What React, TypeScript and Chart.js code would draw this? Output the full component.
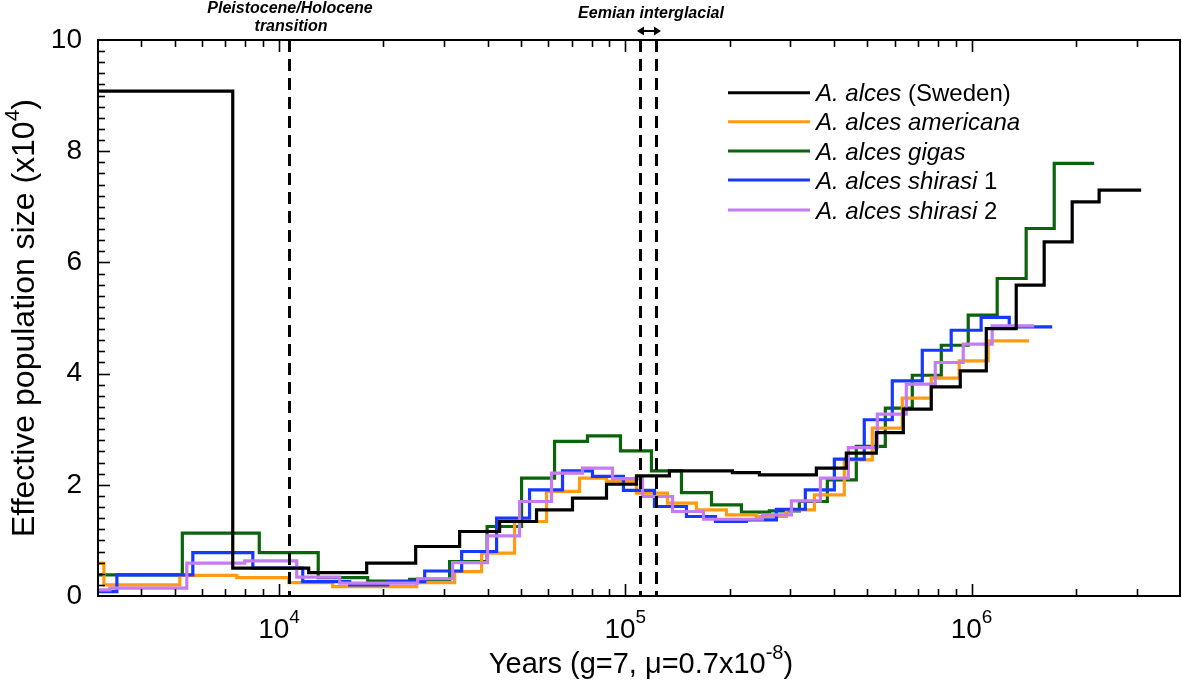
import { useEffect, useRef } from "react";
import { Chart, registerables } from "chart.js";
Chart.register(...registerables);

const FONT = '"Liberation Sans", Arial, Helvetica, sans-serif';

// Years before present (start of each step) and Ne (x10^4)
const swedenYears = [3000, 7350, 12180, 17910, 24810, 33230, 43350, 55420, 70390, 88250, 107700, 134100, 203900, 244000, 356300, 434900, 530800, 635300, 765000, 927700, 1103000, 1346000, 1621000, 1953000, 2336000, 3089000];
const swedenNe = [9.08, 0.5, 0.42, 0.59, 0.89, 1.16, 1.34, 1.55, 1.76, 2.01, 2.16, 2.25, 2.22, 2.18, 2.3, 2.57, 2.94, 3.36, 3.76, 4.05, 4.81, 5.59, 6.37, 7.09, 7.3, 7.3];

const americanaYears = [3000, 3120, 5169, 7549, 10666, 14289, 24972, 32140, 38460, 47880, 59230, 73750, 88250, 107700, 132400, 160500, 196000, 239000, 291900, 351600, 429100, 516900, 631000, 765000, 921200, 1117000, 1467000];
const americanaNe = [0.59, 0.2, 0.37, 0.33, 0.24, 0.17, 0.24, 0.44, 0.77, 1.34, 1.88, 2.12, 2.06, 1.85, 1.67, 1.55, 1.46, 1.43, 1.55, 1.82, 2.45, 3.02, 3.56, 3.92, 4.23, 4.59, 4.59];

const gigasYears = [3000, 5256, 8768, 12977, 18030, 23838, 31090, 39890, 50170, 62470, 77770, 96850, 119000, 145300, 177400, 216500, 260800, 318200, 383300, 464700, 563600, 674400, 817700, 978200, 1186000, 1438000, 1733000, 2260000];
const gigasNe = [0.38, 1.13, 0.78, 0.33, 0.27, 0.3, 0.62, 1.25, 2.12, 2.78, 2.88, 2.61, 2.25, 1.86, 1.64, 1.51, 1.53, 1.7, 2.09, 2.69, 3.38, 3.97, 4.51, 5.05, 5.71, 6.61, 7.78, 7.78];

const shirasi1Years = [3000, 3401, 5636, 8399, 11706, 15996, 20594, 26340, 33680, 42490, 52910, 65870, 80390, 98790, 121400, 150200, 182200, 223800, 273200, 331100, 401600, 490000, 590400, 720700, 873500, 1066000, 1285000, 1710000];
const shirasi1Ne = [0.08, 0.38, 0.78, 0.5, 0.26, 0.2, 0.26, 0.45, 0.8, 1.4, 1.91, 2.25, 2.15, 1.9, 1.61, 1.43, 1.34, 1.37, 1.56, 1.91, 2.46, 3.17, 3.87, 4.42, 4.78, 5.01, 4.84, 4.84];

const shirasi2Years = [3000, 3247, 5415, 7962, 11248, 14969, 25140, 31720, 40020, 49510, 61230, 75240, 91850, 112100, 136900, 168200, 248900, 301800, 365900, 440700, 534400, 648000, 785600, 946300, 1147000, 1517000];
const shirasi2Ne = [0.11, 0.14, 0.59, 0.63, 0.34, 0.23, 0.31, 0.6, 1.08, 1.7, 2.21, 2.3, 2.11, 1.79, 1.52, 1.38, 1.46, 1.71, 2.12, 2.67, 3.27, 3.81, 4.2, 4.53, 4.86, 4.86];

const legendItalic = ["A. alces", "A. alces americana", "A. alces gigas", "A. alces shirasi", "A. alces shirasi"];
const legendPlain = [" (Sweden)", "", "", " 1", " 2"];
const seriesColors = ["#000000", "#ff9a12", "#0a640a", "#1638ff", "#c57cf0"];

const holoceneYear = 10700;
const eemianYears = [110600, 122800];
const xMajorTicks = [1e4, 1e5, 1e6];
const xMajorExp = ["4", "5", "6"];
const xMin = 3000;
const xMax = 4e6;

function drawSup(ctx: CanvasRenderingContext2D, base: string, sup: string, tail: string, x: number, y: number, size: number, supSize: number, align: "center" | "left", rise: number) {
  ctx.textBaseline = "alphabetic";
  ctx.textAlign = "left";
  const bf = `${size}px ${FONT}`;
  const sf = `${supSize}px ${FONT}`;
  ctx.font = bf;
  const w1 = ctx.measureText(base).width;
  const w3 = ctx.measureText(tail).width;
  ctx.font = sf;
  const w2 = ctx.measureText(sup).width;
  const total = w1 + w2 + w3;
  let sx = align === "center" ? x - total / 2 : x;
  ctx.font = bf;
  ctx.fillText(base, sx, y);
  sx += w1;
  ctx.font = sf;
  ctx.fillText(sup, sx, y - rise);
  sx += w2;
  ctx.font = bf;
  ctx.fillText(tail, sx, y);
}

const decorPlugin = {
  id: "decor",
  afterDatasetsDraw(chart: any) {
    const ctx: CanvasRenderingContext2D = chart.ctx;
    const { left, right, top, bottom } = chart.chartArea;
    const xs = chart.scales.x;
    const ys = chart.scales.y;
    ctx.save();
    ctx.strokeStyle = "#000";
    ctx.fillStyle = "#000";

    // dashed event lines
    ctx.lineWidth = 3;
    ctx.setLineDash([12, 7]);
    [holoceneYear, ...eemianYears].forEach((v) => {
      const px = Math.round(xs.getPixelForValue(v)) + 0.5;
      ctx.beginPath();
      ctx.moveTo(px, top);
      ctx.lineTo(px, bottom);
      ctx.stroke();
    });
    ctx.setLineDash([]);

    // frame
    ctx.lineWidth = 2;
    ctx.strokeRect(left, top, right - left, bottom - top);

    // x ticks (top & bottom, inward)
    ctx.lineWidth = 1.6;
    for (let e = 3; e <= 6; e++) {
      for (let m = 1; m <= 9; m++) {
        const v = m * Math.pow(10, e);
        if (v <= xMin || v >= xMax) continue;
        const px = Math.round(xs.getPixelForValue(v)) + 0.5;
        const len = m === 1 ? 12 : 7;
        ctx.beginPath();
        ctx.moveTo(px, bottom);
        ctx.lineTo(px, bottom - len);
        ctx.moveTo(px, top);
        ctx.lineTo(px, top + len);
        ctx.stroke();
      }
    }
    // y ticks (left, inward)
    for (let i = 1; i < 50; i++) {
      const v = i * 0.2;
      const py = Math.round(ys.getPixelForValue(v)) + 0.5;
      const len = i % 10 === 0 ? 12 : 7;
      ctx.beginPath();
      ctx.moveTo(left, py);
      ctx.lineTo(left + len, py);
      ctx.stroke();
    }

    // x tick labels
    xMajorTicks.forEach((v, i) => {
      const px = xs.getPixelForValue(v);
      drawSup(ctx, "10", xMajorExp[i], "", px, 638, 28, 19, "center", 15);
    });

    // x title
    drawSup(ctx, "Years (g=7, \u03bc=0.7x10", "-8", ")", 641, 673, 29, 20, "center", 14);

    // y title
    ctx.save();
    ctx.translate(34, 318);
    ctx.rotate(-Math.PI / 2);
    drawSup(ctx, "Effective population size (x10", "4", ")", 0, 0, 32, 21, "center", 15);
    ctx.restore();

    // annotations
    ctx.font = `italic bold 16px ${FONT}`;
    ctx.textAlign = "center";
    ctx.textBaseline = "alphabetic";
    ctx.fillText("Pleistocene/Holocene", 290, 13);
    ctx.fillText("transition", 291, 31);
    ctx.fillText("Eemian interglacial", 651, 18);

    // double arrow
    const ay = 31;
    const ax1 = 637;
    const ax2 = 661;
    ctx.lineWidth = 2;
    ctx.beginPath();
    ctx.moveTo(ax1 + 5, ay);
    ctx.lineTo(ax2 - 5, ay);
    ctx.stroke();
    ctx.beginPath();
    ctx.moveTo(ax1, ay);
    ctx.lineTo(ax1 + 7, ay - 4.5);
    ctx.lineTo(ax1 + 7, ay + 4.5);
    ctx.closePath();
    ctx.fill();
    ctx.beginPath();
    ctx.moveTo(ax2, ay);
    ctx.lineTo(ax2 - 7, ay - 4.5);
    ctx.lineTo(ax2 - 7, ay + 4.5);
    ctx.closePath();
    ctx.fill();

    // legend
    const rowY = [92.7, 121.7, 151, 180, 210];
    legendItalic.forEach((t, i) => {
      const cy = rowY[i];
      ctx.strokeStyle = seriesColors[i];
      ctx.lineWidth = 3;
      ctx.beginPath();
      ctx.moveTo(728, cy);
      ctx.lineTo(810, cy);
      ctx.stroke();
      ctx.fillStyle = "#000";
      ctx.textAlign = "left";
      ctx.font = `italic 24px ${FONT}`;
      ctx.fillText(t, 816, cy + 8.5);
      const w = ctx.measureText(t).width;
      ctx.font = `24px ${FONT}`;
      ctx.fillText(legendPlain[i], 816 + w, cy + 8.5);
    });

    ctx.restore();
  },
};

function toPoints(xs: number[], ys: number[]) {
  return xs.map((x, i) => ({ x, y: ys[i] }));
}

export default function App() {
  const ref = useRef<HTMLCanvasElement | null>(null);
  useEffect(() => {
    if (!ref.current) return;
    const mk = (label: string, xs: number[], ys: number[], color: string, order: number) => ({
      label,
      data: toPoints(xs, ys),
      borderColor: color,
      backgroundColor: color,
      borderWidth: 3.2,
      pointRadius: 0,
      stepped: true as const,
      fill: false,
      tension: 0,
      order,
    });
    const chart = new Chart(ref.current, {
      type: "line",
      data: {
        datasets: [
          mk("A. alces (Sweden)", swedenYears, swedenNe, seriesColors[0], 0),
          mk("A. alces americana", americanaYears, americanaNe, seriesColors[1], 3),
          mk("A. alces gigas", gigasYears, gigasNe, seriesColors[2], 4),
          mk("A. alces shirasi 1", shirasi1Years, shirasi1Ne, seriesColors[3], 2),
          mk("A. alces shirasi 2", shirasi2Years, shirasi2Ne, seriesColors[4], 1),
        ],
      },
      options: {
        animation: false,
        responsive: false,
        devicePixelRatio: 1,
        layout: { padding: { top: 40, right: 2, left: 0, bottom: 0 } },
        plugins: { legend: { display: false }, tooltip: { enabled: false } },
        scales: {
          x: {
            type: "logarithmic",
            min: xMin,
            max: xMax,
            grid: { display: false },
            border: { display: false },
            ticks: { display: false },
            afterFit: (s: any) => {
              s.height = 89;
            },
          },
          y: {
            type: "linear",
            min: 0,
            max: 10,
            grid: { display: false, drawTicks: false },
            border: { display: false },
            ticks: {
              stepSize: 2,
              padding: 16,
              color: "#000",
              font: { family: FONT, size: 28 },
            },
            afterFit: (s: any) => {
              s.width = 98;
            },
          },
        },
      },
      plugins: [decorPlugin],
    });
    return () => chart.destroy();
  }, []);
  return (
    <canvas
      ref={ref}
      width={1182}
      height={685}
      style={{ position: "absolute", left: 0, top: 0, width: 1182, height: 685, background: "#fff" }}
    />
  );
}
